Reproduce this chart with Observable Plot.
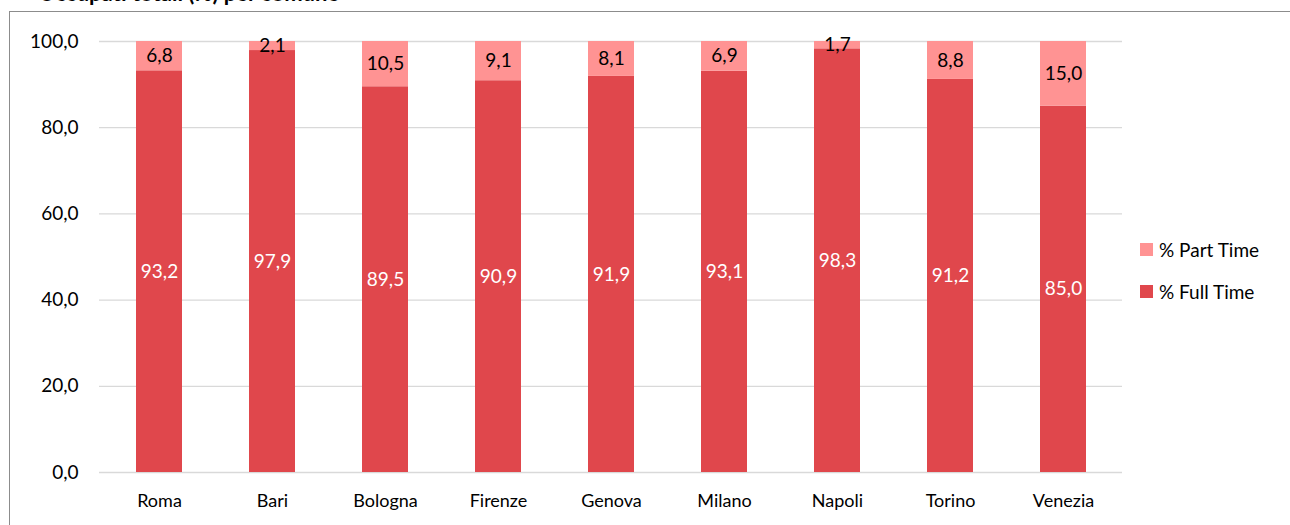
<!DOCTYPE html>
<html>
<head>
<meta charset="utf-8">
<script src="https://cdn.jsdelivr.net/npm/d3@7"></script>
<script src="https://cdn.jsdelivr.net/npm/@observablehq/plot@0.6"></script>
<style>
  html, body { margin: 0; padding: 0; background: #fff; overflow: hidden; }
  #wrap { position: relative; width: 1290px; height: 525px; font-family: Lato, "Open Sans", sans-serif; }
  #title { position: absolute; left: 38px; top: -21px; font-size: 22px; font-weight: bold; color: #000; white-space: nowrap; }
  #border { position: absolute; left: 9px; top: 11px; width: 1300px; height: 600px; border: 1.5px solid #8c8c8c; box-sizing: border-box; pointer-events: none; }
  #legend { position: absolute; left: 1140px; top: 238px; font-size: 19px; color: #000; }
  .item { display: flex; align-items: center; height: 22px; margin-bottom: 20px; }
  .sw { width: 13px; height: 13px; margin-right: 6px; }
</style>
</head>
<body>
<div id="wrap">
  <div id="chart"></div>
  <div id="title">Occupati totali (%) per comune</div>
  <div id="border"></div>
  <div id="legend"></div>
</div>
<script>
const cities = ["Roma","Bari","Bologna","Firenze","Genova","Milano","Napoli","Torino","Venezia"];
const fullTime = [93.2,97.9,89.5,90.9,91.9,93.1,98.3,91.2,85.0];
const partTime = [6.8,2.1,10.5,9.1,8.1,6.9,1.7,8.8,15.0];
const seriesNames = ["% Full Time","% Part Time"];
const seriesColors = ["#e0474c","#ff9393"];
const yTicks = [0,20,40,60,80,100];

const data = [];
cities.forEach((c,i) => data.push({city: c, series: seriesNames[0], value: fullTime[i]}));
cities.forEach((c,i) => data.push({city: c, series: seriesNames[1], value: partTime[i]}));

const fmt = v => d3.format(".1f")(v).replace(".", ",");

const chart = Plot.plot({
  width: 1290,
  height: 525,
  marginLeft: 99,
  marginRight: 168,
  marginTop: 41,
  marginBottom: 53,
  style: {fontFamily: "Lato, 'Open Sans', sans-serif", fontSize: "18px", color: "#000", background: "transparent"},
  x: {domain: cities, paddingInner: 0.595, paddingOuter: 0.2975, label: null},
  y: {domain: [0,100], ticks: yTicks, label: null},
  color: {domain: seriesNames, range: seriesColors},
  marks: [
    Plot.ruleY(yTicks, {stroke: "#d9d9d9", strokeWidth: 1.3}),
    Plot.axisY({ticks: yTicks, tickSize: 0, tickPadding: 21, tickFormat: fmt, fontSize: 19, label: null}),
    Plot.axisX({tickSize: 0, tickPadding: 22, fontSize: 18, label: null}),
    Plot.barY(data, Plot.stackY({x: "city", y: "value", z: "series", fill: "series", order: null})),
    Plot.text(data, Plot.stackY({x: "city", y: "value", z: "series", order: null,
      text: d => d.series === seriesNames[0] ? fmt(d.value) : "", fill: "white", fontSize: 19})),
    Plot.text(data, Plot.stackY({x: "city", y: "value", z: "series", order: null,
      text: d => d.series === seriesNames[1] ? fmt(d.value) : "", fill: "black", fontSize: 19}))
  ]
});
document.getElementById("chart").appendChild(chart);

const legend = document.getElementById("legend");
[[seriesNames[1], seriesColors[1]], [seriesNames[0], seriesColors[0]]].forEach(([n, c]) => {
  const it = document.createElement("div");
  it.className = "item";
  it.innerHTML = `<div class="sw" style="background:${c}"></div><span>${n}</span>`;
  legend.appendChild(it);
});
</script>
</body>
</html>
